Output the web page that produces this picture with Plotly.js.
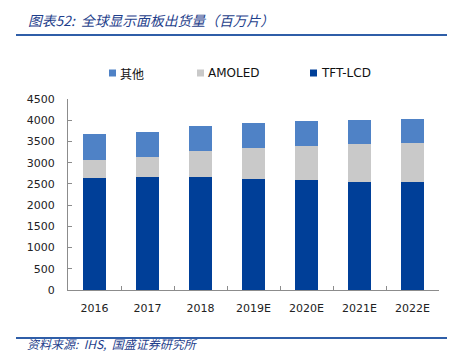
<!DOCTYPE html>
<html>
<head>
<meta charset="utf-8">
<script src="https://cdn.plot.ly/plotly-3.0.1.min.js"></script>
<style>html,body{margin:0;padding:0;background:#fff;}#chart{width:453px;height:351px;}</style>
</head>
<body>
<div id="chart"></div>
<script>
const categories = ["2016", "2017", "2018", "2019E", "2020E", "2021E", "2022E"];
const tftLcd = [2646, 2670, 2655, 2608, 2584, 2553, 2545];
const amoled = [417, 457, 613, 730, 817, 879, 919];
const other = [613, 603, 596, 589, 581, 573, 565];
const seriesNames = ["TFT-LCD", "AMOLED", "其他"];
const yTicks = [0, 500, 1000, 1500, 2000, 2500, 3000, 3500, 4000, 4500];

const colors = {tft: "#003F98", amoled: "#C9C9C9", other: "#4F82C6"};
const W = 453, H = 351;
const m = {l: 68, r: 14, t: 99, b: 61};
const pw = W - m.l - m.r, ph = H - m.t - m.b;
const px = x => (x - m.l) / pw;
const py = y => (H - m.b - y) / ph;

const traces = [
  {type: "bar", name: seriesNames[0], x: categories, y: tftLcd, marker: {color: colors.tft}, hoverinfo: "y+name"},
  {type: "bar", name: seriesNames[1], x: categories, y: amoled, marker: {color: colors.amoled}, hoverinfo: "y+name"},
  {type: "bar", name: seriesNames[2], x: categories, y: other, marker: {color: colors.other}, hoverinfo: "y+name"}
];

const legendItems = [
  {name: seriesNames[2], color: colors.other, x: 109, font: "'Noto Sans CJK SC', sans-serif"},
  {name: seriesNames[1], color: colors.amoled, x: 197, font: "'DejaVu Sans', sans-serif"},
  {name: seriesNames[0], color: colors.tft, x: 310, font: "'DejaVu Sans', sans-serif"}
];
const legY = 73;

const shapes = [
  {type: "line", xref: "paper", yref: "paper", x0: px(16), x1: px(447), y0: py(35), y1: py(35), line: {color: "#2F5EA8", width: 2}},
  {type: "line", xref: "paper", yref: "paper", x0: px(16), x1: px(447), y0: py(338), y1: py(338), line: {color: "#2F5EA8", width: 2}}
];
const annotations = [
  {xref: "paper", yref: "paper", x: px(26), y: py(20), xanchor: "left", yanchor: "middle", showarrow: false,
   text: "<i>图表52:  全球显示面板出货量（百万片）</i>", font: {family: "'Noto Sans CJK SC', sans-serif", size: 13.8, color: "#1F3F8C"}},
  {xref: "paper", yref: "paper", x: px(26), y: py(343), xanchor: "left", yanchor: "middle", showarrow: false, borderpad: 0,
   text: "<i>资料来源:  IHS,  国盛证券研究所</i>", font: {family: "'Noto Sans CJK SC', sans-serif", size: 12, color: "#1F3F8C"}}
];
legendItems.forEach(it => {
  shapes.push({type: "rect", xref: "paper", yref: "paper", x0: px(it.x), x1: px(it.x + 7), y0: py(legY - 3.5), y1: py(legY + 3.5), line: {width: 0}, fillcolor: it.color});
  annotations.push({xref: "paper", yref: "paper", x: px(it.x + 9), y: py(legY), xanchor: "left", yanchor: "middle", showarrow: false,
    text: it.name, font: {family: it.font, size: 12, color: "#111"}});
});

const layout = {
  width: W, height: H,
  margin: m,
  barmode: "stack",
  bargap: 0.58,
  showlegend: false,
  paper_bgcolor: "#fff", plot_bgcolor: "#fff",
  font: {family: "'DejaVu Sans', sans-serif", size: 11, color: "#222"},
  xaxis: {
    type: "category", showgrid: false, zeroline: false,
    showline: true, linecolor: "#8C8C8C", linewidth: 1,
    ticks: "inside", ticklen: 4, tickcolor: "#8C8C8C", tickson: "boundaries",
    ticklabelstandoff: 8,
    tickfont: {family: "'DejaVu Sans', sans-serif", size: 11, color: "#222"}
  },
  yaxis: {
    range: [0, 4500], tickvals: yTicks, ticktext: yTicks.map(String),
    showgrid: false, zeroline: false,
    showline: true, linecolor: "#8C8C8C", linewidth: 1,
    ticks: "inside", ticklen: 4, tickcolor: "#8C8C8C",
    ticklabelstandoff: 10,
    tickfont: {family: "'DejaVu Sans', sans-serif", size: 11, color: "#222"}
  },
  shapes: shapes,
  annotations: annotations
};

Plotly.newPlot("chart", traces, layout, {displayModeBar: false, staticPlot: true});
</script>
</body>
</html>
